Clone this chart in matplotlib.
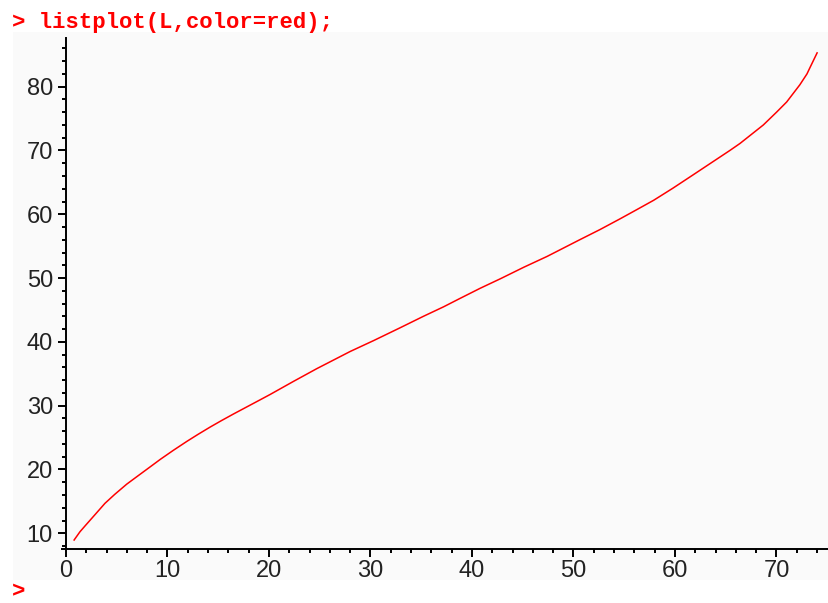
import matplotlib
matplotlib.use("Agg")
import matplotlib.pyplot as plt

# data
x_vals = [0.8, 1.38, 1.9, 2.9, 3.84, 4.8, 5.98, 7.0, 8.11, 9.3, 10.57, 11.9, 13.0,
          14.2, 15.3, 16.5, 17.8, 19.1, 20.1, 22.4, 24.7, 28.0, 30.3, 32.9, 35.2,
          37.2, 38.8, 40.8, 42.8, 45.1, 47.4, 50.6, 52.6, 54.6, 56.2, 57.9, 59.8,
          61.8, 63.6, 65.4, 66.4, 68.7, 70.0, 71.0, 72.3, 73.0, 73.3, 74.0]
y_vals = [8.95, 10.25, 11.2, 13.0, 14.7, 16.1, 17.7, 18.9, 20.2, 21.6, 23.0, 24.4, 25.5,
          26.65, 27.65, 28.7, 29.8, 30.9, 31.75, 33.8, 35.8, 38.5, 40.2, 42.2, 44.0,
          45.5, 46.8, 48.4, 49.9, 51.7, 53.4, 56.0, 57.6, 59.3, 60.7, 62.2, 64.1,
          66.2, 68.1, 70.0, 71.1, 74.0, 76.0, 77.6, 80.3, 82.0, 83.0, 85.3]
x_ticks = [0, 10, 20, 30, 40, 50, 60, 70]
y_ticks = [10, 20, 30, 40, 50, 60, 70, 80]
x_minor = [v for v in range(2, 75, 2) if v % 10]
y_minor = [v for v in range(8, 87, 2) if v % 10]

W, H = 829, 603
fig = plt.figure(figsize=(W / 100, H / 100), dpi=100)
fig.patch.set_facecolor("white")

left, right, top, bottom = 13, 829, 32, 580
ax = fig.add_axes([left / W, (H - bottom) / H, (right - left) / W, (bottom - top) / H])
ax.set_facecolor("#fafafa")

# pixel mapping: px = 66 + 10.15*x ; py = 533.3 - 6.38*(y-10)
ax.set_xlim((left - 66) / 10.15, (right - 66) / 10.15)
ax.set_ylim(10 - (bottom - 533.3) / 6.38, 10 + (533.3 - top) / 6.38)

ax.plot(x_vals, y_vals, color="red", lw=1.1, solid_joinstyle="round")

for s in ("top", "right"):
    ax.spines[s].set_visible(False)
x_axis_y = 7.54
ax.spines["left"].set_position(("data", 0))
ax.spines["bottom"].set_position(("data", x_axis_y))
ax.spines["left"].set_bounds(x_axis_y, 87.6)
ax.spines["bottom"].set_bounds(-0.4, 75.3)
for s in ("left", "bottom"):
    ax.spines[s].set_linewidth(1.4)
    ax.spines[s].set_color("black")

ax.set_xticks(x_ticks)
ax.set_yticks(y_ticks)
ax.set_xticks(x_minor, minor=True)
ax.set_yticks(y_minor, minor=True)
ax.set_xticklabels([str(v) for v in x_ticks])
ax.set_yticklabels([str(v) for v in y_ticks])

ax.tick_params(which="major", direction="out", length=5.8, width=1.4, color="black",
               labelcolor="#222222")
ax.tick_params(which="minor", direction="out", length=2.9, width=1.4, color="black")
ax.tick_params(axis="y", which="major", pad=3.6)
ax.tick_params(axis="x", which="major", pad=2.0)
for lab in ax.get_xticklabels() + ax.get_yticklabels():
    lab.set_fontfamily(["Liberation Sans Narrow", "Liberation Sans"])
    lab.set_fontsize(17)

mono = dict(family=["Liberation Mono", "DejaVu Sans Mono"], weight="bold", size=16,
            color="red")
fig.text(12 / W, 1 - 28 / H, "> listplot(L,color=red);", ha="left", va="baseline", **mono)
fig.text(12 / W, 1 - 597 / H, ">", ha="left", va="baseline", **mono)

fig.savefig("out.png", dpi=100, facecolor="white")
